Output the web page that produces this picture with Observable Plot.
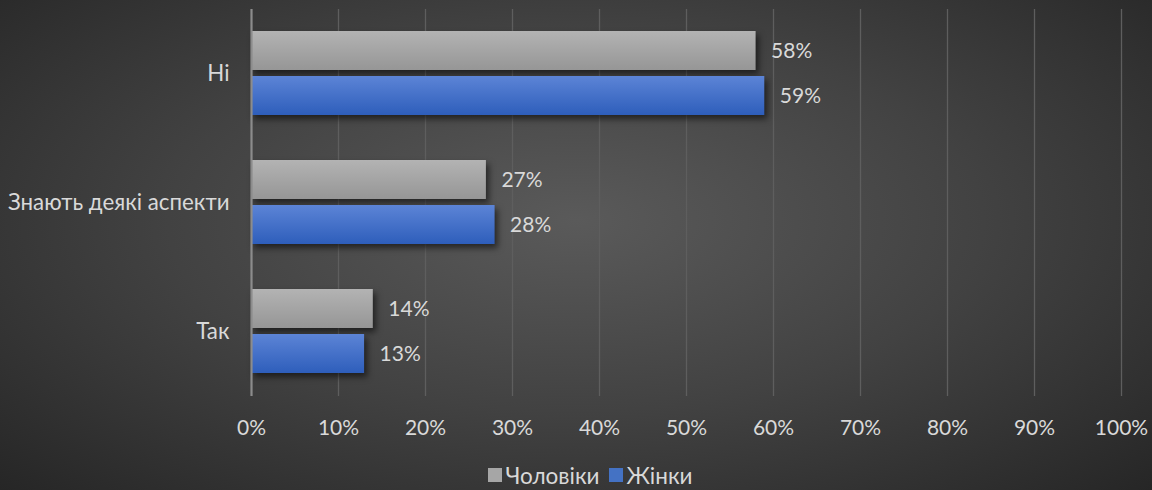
<!DOCTYPE html>
<html>
<head>
<meta charset="utf-8">
<script src="https://cdn.jsdelivr.net/npm/d3@7"></script>
<script src="https://cdn.jsdelivr.net/npm/@observablehq/plot@0.6"></script>
<style>
  html, body { margin: 0; padding: 0; }
  body {
    width: 1152px; height: 490px; overflow: hidden;
    background: radial-gradient(ellipse farthest-corner at 50% 45%, #5a5a5a 0%, #424242 50%, #262626 100%);
    font-family: Lato, "Open Sans", sans-serif;
  }
  #chart svg { display: block; background: transparent; }
  #chart svg g[aria-label="bar"] rect { filter: drop-shadow(3px 4px 3px rgba(0,0,0,0.55)); }
  #legend {
    display: flex; justify-content: center; align-items: center; gap: 9px;
    color: #d9d9d9; font-size: 22.5px; height: 34px; padding-left: 28px;
  }
  #legend span.sw { display: inline-block; width: 14px; height: 14px; margin-right: 4px; }
  #legend .item { display: flex; align-items: center; }
</style>
</head>
<body>
<div id="chart"></div>
<div id="legend"></div>
<script>
const categories = ["Ні", "Знають деякі аспекти", "Так"];
const series = ["Чоловіки", "Жінки"];
const men = [0.58, 0.27, 0.14];
const women = [0.59, 0.28, 0.13];
const xTicks = [0, 0.1, 0.2, 0.3, 0.4, 0.5, 0.6, 0.7, 0.8, 0.9, 1.0];
const seriesFill = {"Чоловіки": "url(#gradGrey)", "Жінки": "url(#gradBlue)"};
const legendColors = {"Чоловіки": "#a6a6a6", "Жінки": "#4472c4"};

const data = [];
categories.forEach((c, i) => {
  data.push({category: c, series: "Чоловіки", value: men[i]});
  data.push({category: c, series: "Жінки", value: women[i]});
});

const textColor = "#d9d9d9";
const fmt = d => Math.round(d * 100) + "%";

const plot = Plot.plot({
  width: 1152,
  height: 458,
  marginLeft: 251,
  marginRight: 31,
  marginTop: 8,
  marginBottom: 61,
  style: {background: "transparent", color: textColor, fontFamily: "Lato, 'Open Sans', sans-serif", fontSize: "21px"},
  x: {domain: [0, 1], axis: null},
  fy: {domain: categories, padding: 0, label: null},
  y: {domain: series, paddingInner: 0.13, paddingOuter: 0.475, axis: null},
  marks: [
    Plot.ruleX(xTicks.slice(1), {x: d => d, stroke: "#5e5e5e", strokeWidth: 1.3}),
    Plot.axisFy({anchor: "left", tickSize: 0, tickPadding: 22, label: null, fill: textColor, fontSize: 22.3}),
    Plot.axisX({ticks: xTicks, tickFormat: fmt, tickSize: 0, tickPadding: 24, label: null, fill: textColor, fontSize: 21, facetAnchor: "bottom"}),
    Plot.barX(data.filter(d => d.series === "Чоловіки"), {fy: "category", y: "series", x: "value", fill: seriesFill["Чоловіки"]}),
    Plot.barX(data.filter(d => d.series === "Жінки"), {fy: "category", y: "series", x: "value", fill: seriesFill["Жінки"]}),
    Plot.ruleX([0], {stroke: "#8c8c8c", strokeWidth: 2.2}),
    Plot.text(data, {fy: "category", y: "series", x: "value", text: d => fmt(d.value), textAnchor: "start", dx: 15, fill: textColor, fontSize: 21})
  ]
});

plot.insertAdjacentHTML("afterbegin",
  `<defs>
     <linearGradient id="gradGrey" x1="0" y1="0" x2="0" y2="1">
       <stop offset="0" stop-color="#b3b3b3"/><stop offset="1" stop-color="#969696"/>
     </linearGradient>
     <linearGradient id="gradBlue" x1="0" y1="0" x2="0" y2="1">
       <stop offset="0" stop-color="#5c84d6"/><stop offset="1" stop-color="#2e5ebb"/>
     </linearGradient>
   </defs>`);
document.getElementById("chart").appendChild(plot);

const legend = document.getElementById("legend");
series.forEach(s => {
  const item = document.createElement("div");
  item.className = "item";
  const sw = document.createElement("span");
  sw.className = "sw";
  sw.style.background = legendColors[s];
  item.appendChild(sw);
  item.appendChild(document.createTextNode(s));
  legend.appendChild(item);
});
</script>
</body>
</html>
